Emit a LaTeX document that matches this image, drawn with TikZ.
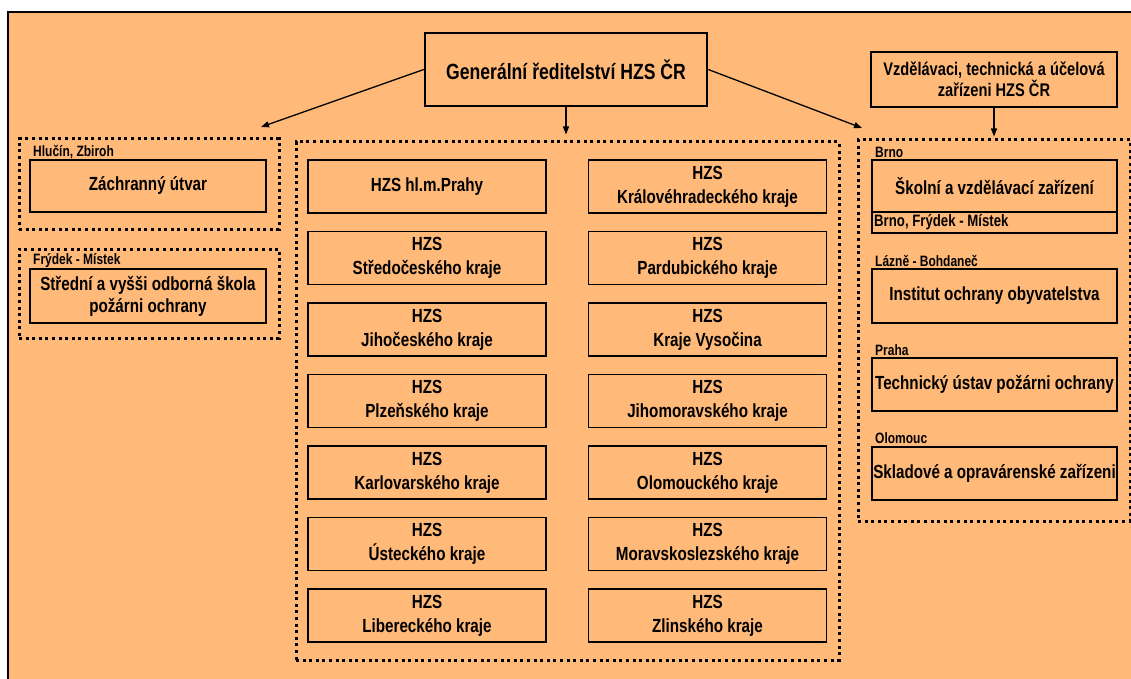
\documentclass[tikz,border=0pt]{standalone}
\usepackage{fontspec}
\setmainfont{Liberation Sans}[FakeStretch=0.8]
\usetikzlibrary{arrows.meta, calc}
\definecolor{hzsorange}{RGB}{255,186,121}

\begin{document}
\begin{tikzpicture}[x=1pt, y=-1pt,
    font=\bfseries\fontsize{19}{24}\selectfont,
    unitbox/.style={draw, line width=1.6pt, minimum width=238pt, minimum height=53pt, inner sep=0pt, align=center},
    sidebox/.style={draw, line width=1.6pt, minimum width=245pt, minimum height=53pt, inner sep=0pt, align=center},
    place/.style={anchor=west, inner sep=0pt, font=\bfseries\fontsize{15}{16}\selectfont},
    dotbox/.style={draw, line width=3pt, dash pattern=on 3pt off 3.6pt, inner sep=0pt},
    arr/.style={-{Triangle[length=8pt, width=6pt]}, line width=1.3pt}]
    \useasboundingbox (0,0) rectangle (1131,679);
    \clip (0,0) rectangle (1131,679);

    % background sheet
    \fill[hzsorange] (8,12) rectangle (1145,700);
    \draw[line width=1.5pt] (8,700) -- (8,12) -- (1145,12);

    % top boxes
    \node[draw, line width=2.5pt, minimum width=282pt, minimum height=73pt, font=\bfseries\fontsize{22}{26}\selectfont] (gen) at (566,69.5) {Generální ředitelství HZS ČR};
    \node[sidebox, minimum width=246pt, minimum height=55pt, font=\bfseries\fontsize{18.3}{21}\selectfont] (vzd) at (994,79.5) {Vzdělávaci, technická a účelová\\zařízeni HZS ČR};

    % dotted groups
    \node[dotbox, minimum width=260pt, minimum height=90pt] (left1) at (149,184) {};
    \node[dotbox, minimum width=260pt, minimum height=89pt] (left2) at (149,293.5) {};
    \node[dotbox, minimum width=543pt, minimum height=518pt] (mid) at (567.5,401) {};
    \node[dotbox, minimum width=272pt, minimum height=381pt] (right) at (994,330.5) {};

    \coordinate (tipL) at (261,127);
    \coordinate (tipR) at (862,128);

    \draw[arr] (gen.west) -- (tipL);
    \draw[arr, shorten >=6pt] (gen.south) -- (gen.south |- mid.north);
    \draw[arr] (gen.east) -- (tipR);
    \draw[arr, shorten >=2pt] (vzd.south) -- (vzd.south |- right.north);

    % left side
    \node[place] (hlucin) at (33,152) {Hlučín, Zbiroh};
    \node[unitbox, minimum width=236pt, minimum height=52pt] (zachr) at (148,186) {Záchranný útvar};
    \node[place] (frydek) at (33,261) {Frýdek - Místek};
    \node[unitbox, minimum width=236pt, minimum height=54pt, font=\bfseries\fontsize{19}{22}\selectfont] (skola) at (148,296) {Střední a vyšši odborná škola\\požárni ochrany};

    % regional units, first column
    \node[unitbox] (praha) at (427,186.5) {HZS hl.m.Prahy};
    \node[unitbox] (stc) at (427,258) {HZS\\Středočeského kraje};
    \node[unitbox] (jhc) at (427,329.5) {HZS\\Jihočeského kraje};
    \node[unitbox] (plz) at (427,401) {HZS\\Plzeňského kraje};
    \node[unitbox] (kvk) at (427,472.5) {HZS\\Karlovarského kraje};
    \node[unitbox] (ulk) at (427,544) {HZS\\Ústeckého kraje};
    \node[unitbox] (lbk) at (427,615.5) {HZS\\Libereckého kraje};

    % regional units, second column
    \node[unitbox] (hkk) at (707.5,186.5) {HZS\\Královéhradeckého kraje};
    \node[unitbox] (pak) at (707.5,258) {HZS\\Pardubického kraje};
    \node[unitbox] (vys) at (707.5,329.5) {HZS\\Kraje Vysočina};
    \node[unitbox] (jmk) at (707.5,401) {HZS\\Jihomoravského kraje};
    \node[unitbox] (olk) at (707.5,472.5) {HZS\\Olomouckého kraje};
    \node[unitbox] (msk) at (707.5,544) {HZS\\Moravskoslezského kraje};
    \node[unitbox] (zlk) at (707.5,615.5) {HZS\\Zlinského kraje};

    % facilities
    \node[place] (brno) at (875,152) {Brno};
    \node[sidebox, minimum height=52pt] (skolni) at (994.5,186) {Školní a vzdělávací zařízení};
    \node[draw, line width=1.3pt, minimum width=245pt, minimum height=21pt, inner sep=0pt] (sklbox) at (994.5,222.5) {};
    \node[place, font=\bfseries\fontsize{16.5}{18}\selectfont] (brnofm) at (874,222.5) {Brno, Frýdek - Místek};
    \node[place] (lazne) at (875,261) {Lázně - Bohdaneč};
    \node[sidebox, minimum height=54pt] (iob) at (994.5,296) {Institut ochrany obyvatelstva};
    \node[place] (praha2) at (875,350) {Praha};
    \node[sidebox] (tupo) at (994.5,384.5) {Technický ústav požárni ochrany};
    \node[place] (olomouc) at (875,438) {Olomouc};
    \node[sidebox] (sklad) at (994.5,473.5) {Skladové a opravárenské zařízeni};
\end{tikzpicture}
\end{document}
